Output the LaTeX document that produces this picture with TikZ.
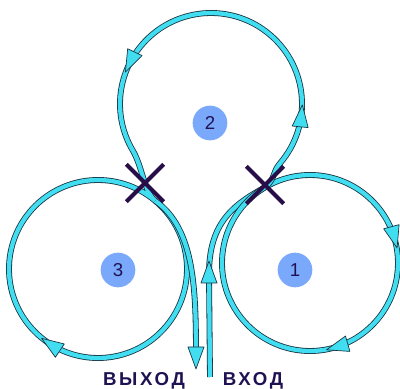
\documentclass[tikz,border=0pt]{standalone}
\usepackage{fontspec}
\setmainfont{Liberation Sans}
\usepackage{tikz}
\usetikzlibrary{calc,shapes.misc}
\definecolor{tube}{RGB}{64,222,240}
\definecolor{rim}{RGB}{22,48,62}
\definecolor{xcol}{RGB}{40,14,72}
\definecolor{badge}{RGB}{122,168,250}
\definecolor{ink}{RGB}{32,18,82}
\tikzset{
  pipe/.style={draw=rim, line width=0.6pt, double=tube, double distance=3.2pt},
  tipmark/.style={fill=tube, draw=rim, line width=0.5pt, line join=round},
  num/.style={circle, fill=badge, minimum size=26pt, inner sep=0pt, font=\fontsize{14}{14}\selectfont, text=ink},
  xmark/.style={cross out, draw=xcol, line width=3pt, minimum size=25pt, inner sep=0pt},
  port/.style={font=\bfseries\fontsize{14}{14}\selectfont\addfontfeature{LetterSpace=14}, text=ink, anchor=base},
}
\newcommand{\flowtip}[2]{\draw[tipmark, shift={#1}, rotate=#2] (8,0) -- (-14,8) -- (-14,-8) -- cycle;}

\begin{document}
\begin{tikzpicture}[x=0.75pt, y=0.75pt]
  \useasboundingbox (0,0) rectangle (400,389);
  \coordinate (c1) at (310,126); \coordinate (c2) at (211,285); \coordinate (c3) at (98,120);
  \coordinate (in) at (210,12); \coordinate (out) at (196,30);
  \coordinate (xr) at ($(c1)+(120:88)$);
  % input, ring 1, loop 2, ring 3, outlet
  \draw[pipe] (in) -- (209,115) .. controls (209,165) and (232,184) .. (xr);
  \draw[pipe] (c1) circle[radius=88];
  \draw[pipe] (xr) .. controls +(45:14) and +(229.5:12) .. ($(c2)+(-40.5:91)$)
    arc[start angle=-40.5, end angle=210.5, radius=91]
    .. controls +(-59.5:20) and +(140:15) .. ($(c3)+(50:89)$) coordinate (j3)
    arc[start angle=50, end angle=-310, radius=89];
  \draw[pipe] (j3) .. controls (195,160) and (196,100) .. (out);
  \flowtip{(209,120)}{90}
  \flowtip{($(c1)+(15:88)$)}{-75} \flowtip{($(c1)+(-74:88)$)}{-164}
  \flowtip{($(c2)+(-5.6:91)$)}{84.4} \flowtip{($(c2)+(154.5:91)$)}{244.5}
  \flowtip{($(c3)+(-124:89)$)}{146}
  \flowtip{(196,28)}{-90}
  \node[xmark] (xl) at (145,206) {}; \node[xmark] (xrm) at (265,204) {};
  \node[num] (n1) at (295,119) {1}; \node[num] (n2) at (210,266) {2}; \node[num] (n3) at (118,119) {3};
  \node[port] (lout) at (144,3) {ВЫХОД}; \node[port] (lin) at (253,3) {ВХОД};
\end{tikzpicture}
\end{document}
